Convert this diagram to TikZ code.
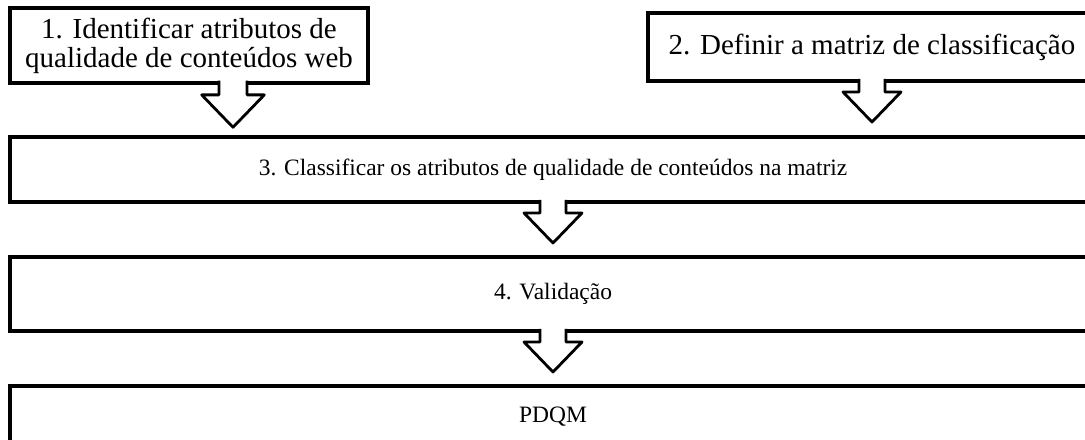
\documentclass[tikz,border=0pt]{standalone}
\usepackage{fontspec}
\setmainfont{Liberation Serif}

\tikzset{
  box/.style={draw, line width=3.4pt, outer sep=0pt, align=center,
    font=\fontsize{21.75pt}{21.75pt}\selectfont},
  widebox/.style={box, minimum width=814.5pt, font=\fontsize{17.6pt}{21pt}\selectfont},
  arrowline/.style={line width=2.1pt, line join=round}
}
\newcommand{\blockarrow}[2][]{%
  \begin{scope}[shift={(#2)}, #1]
    \fill[white] (-13,-3) -- (-13,11) -- (-29,11) -- (0,41) -- (29,11) -- (13,11) -- (13,-3) -- cycle;
    \draw[arrowline] (-13,-2.2) -- (-13,11) -- (-29,11) -- (0,41) -- (29,11) -- (13,11) -- (13,-2.2);
  \end{scope}}

\begin{document}
\begin{tikzpicture}[x=0.75pt, y=-0.75pt]
            \useasboundingbox (0,0) rectangle (1085,439);
            \clip (0,0) rectangle (1085,439);

            \node[box, minimum width=268.5pt, minimum height=56.25pt] (s1) at (189,45.5) {1. Identificar atributos de\\qualidade de conteúdos web};
            \node[box, minimum width=336pt, minimum height=51pt] (s2) at (872,47) {2. Definir a matriz de classificação};
            \node[widebox, minimum height=48.75pt] (s3) at (553,169.5) {3. Classificar os atributos de qualidade de conteúdos na matriz};
            \node[widebox, minimum height=55.5pt] (s4) at (553,294) {4. Validação};
            \node[widebox, minimum height=46.5pt] (pdqm) at (553,417) {PDQM};

            \blockarrow[scale=1.08]{[xshift=33pt]s1.south}
            \blockarrow{s2.south}
            \blockarrow{s3.south}
            \blockarrow{s4.south}
        \end{tikzpicture}
\end{document}
